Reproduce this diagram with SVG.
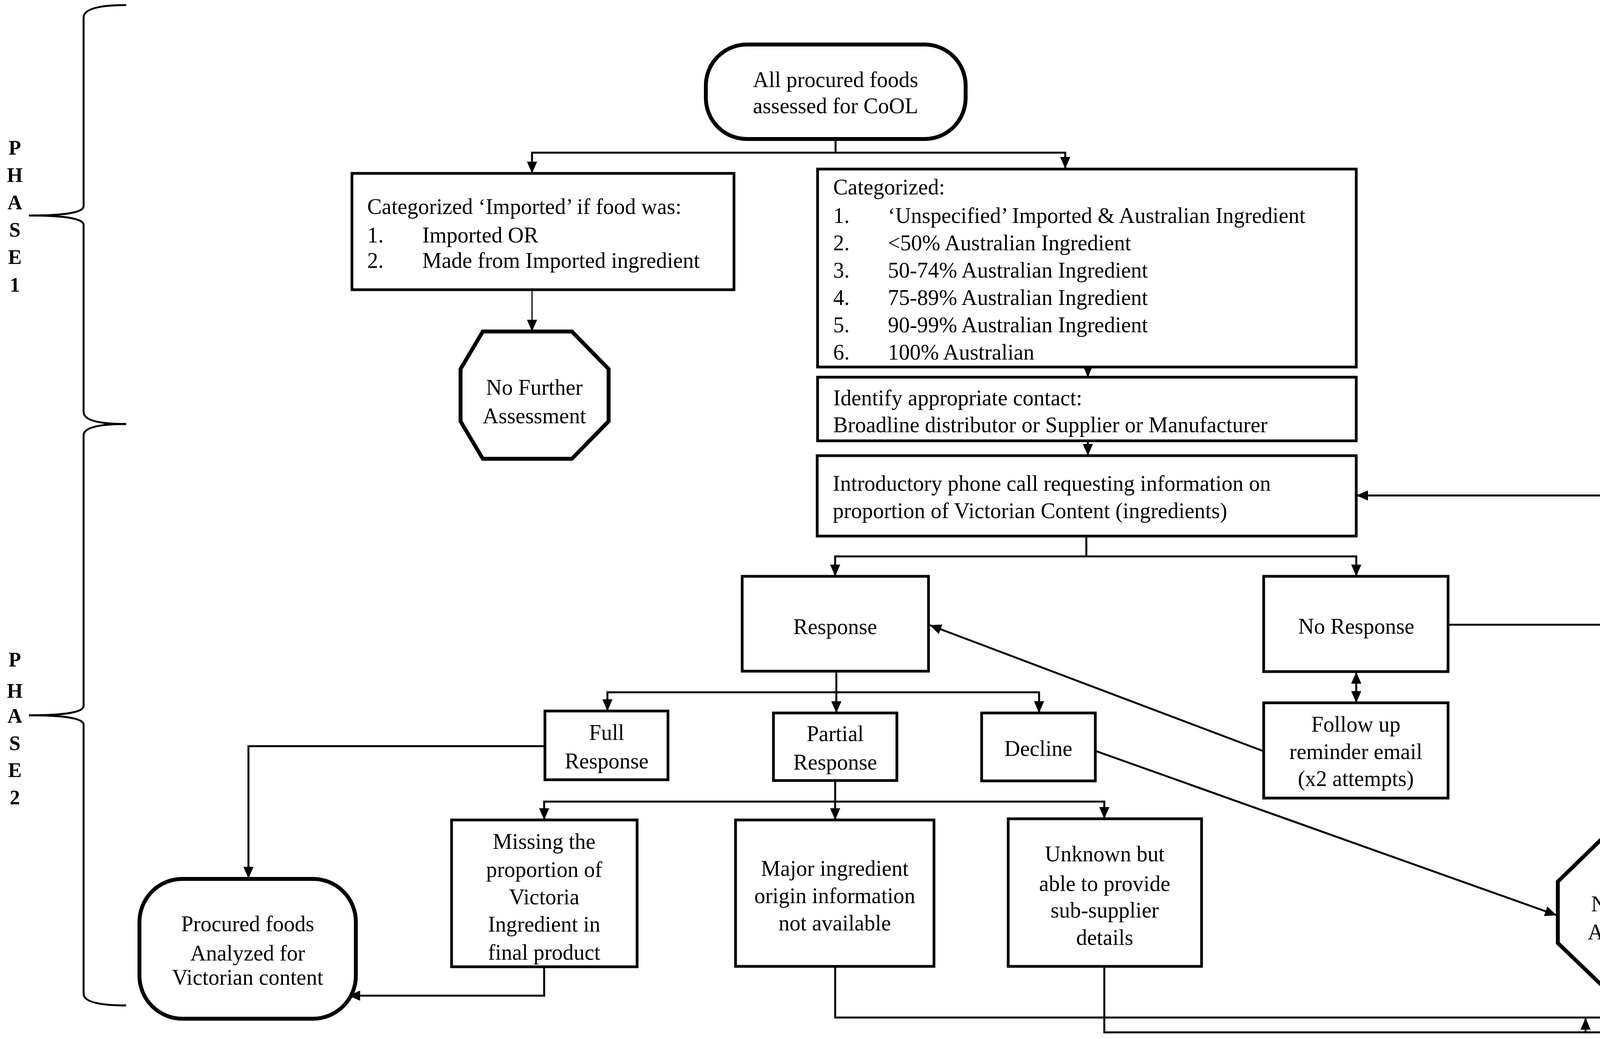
<svg xmlns="http://www.w3.org/2000/svg" width="4550" height="2661" viewBox="0 0 4550 2661">
<style>
.t{font-family:"Liberation Serif","Times New Roman",serif;font-size:56px;fill:#000}
.c{text-anchor:middle}
.ph{font-family:"Liberation Serif","Times New Roman",serif;font-size:52px;font-weight:bold;text-anchor:middle;fill:#000}
.box{fill:#fff;stroke:#000;stroke-width:7}
.thick{fill:#fff;stroke:#000;stroke-width:10}
.ln{fill:none;stroke:#000;stroke-width:5}
.arr{marker-end:url(#ah)}
.brace{fill:none;stroke:#000;stroke-width:5}
</style>
<defs>
<marker id="ah" viewBox="0 0 10 10" refX="10" refY="5" markerWidth="30" markerHeight="26" markerUnits="userSpaceOnUse" orient="auto-start-reverse" preserveAspectRatio="none"><path d="M0,0 L10,5 L0,10 z" fill="#000"/></marker>
</defs>
<rect width="4550" height="2661" fill="#fff"/>

<g id="phases">
<path class="brace" d="M323,13 Q214,13 214,45 L214,528 Q214,552 74,552 Q214,552 214,576 L214,1055 Q214,1086 323,1086"/>
<path class="brace" d="M323,1086 Q214,1086 214,1115 L214,1808 Q214,1832 74,1832 Q214,1832 214,1856 L214,2545 Q214,2575 323,2575"/>
<text class="ph" x="38" y="396">P</text>
<text class="ph" x="38" y="466">H</text>
<text class="ph" x="38" y="536">A</text>
<text class="ph" x="38" y="606">S</text>
<text class="ph" x="38" y="676">E</text>
<text class="ph" x="38" y="747">1</text>
<text class="ph" x="38" y="1707">P</text>
<text class="ph" x="38" y="1787">H</text>
<text class="ph" x="38" y="1851">A</text>
<text class="ph" x="38" y="1921">S</text>
<text class="ph" x="38" y="1990">E</text>
<text class="ph" x="38" y="2060">2</text>
</g>

<g id="connectors">
<path class="ln" d="M2139,356 V391"/>
<path class="ln arr" d="M2139,391 H1362 V444"/>
<path class="ln arr" d="M2139,391 H2727 V432"/>
<path class="ln arr" style="stroke-width:3" d="M1362,742 V849"/>
<path class="ln arr" d="M2785,940 V966"/>
<path class="ln arr" d="M2785,1129 V1167"/>
<path class="ln" d="M2781,1373 V1425"/>
<path class="ln arr" d="M2781,1425 H2138 V1476"/>
<path class="ln arr" d="M2781,1425 H3472 V1476"/>
<path class="ln" d="M2141,1719 V1773"/>
<path class="ln arr" d="M2141,1773 H1555 V1821"/>
<path class="ln arr" d="M2141,1773 V1826"/>
<path class="ln arr" d="M2141,1773 H2660 V1826"/>
<path class="ln arr" d="M1395,1911 H636 V2250"/>
<path class="ln" d="M2138,1999 V2053"/>
<path class="ln arr" d="M2138,2053 H1393 V2100"/>
<path class="ln arr" d="M2138,2053 V2100"/>
<path class="ln arr" d="M2138,2053 H2827 V2097"/>
<path class="ln arr" d="M1393,2476 V2550 H892"/>
<path class="ln arr" d="M2138,2475 V2606 H4199 V2520"/>
<path class="ln arr" d="M2827,2475 V2644 H4533 V1269 H3472"/>
<path class="ln arr" d="M4059,2644 V2607"/>
<path class="ln arr" d="M3707,1600 H4199 V2150"/>
<path class="ln arr" style="marker-start:url(#ah)" d="M3472,1721 V1800"/>
<path class="ln arr" d="M3235,1924 L2380,1601"/>
<path class="ln arr" d="M2804,1923 L3985,2344"/>
</g>

<g id="n_start">
<rect class="thick" x="1807" y="114" width="665" height="242" rx="105" ry="105"/>
<text class="t c" x="2139" y="223">All procured foods</text>
<text class="t c" x="2139" y="290">assessed for CoOL</text>
</g>

<g id="n_imported">
<rect class="box" x="901" y="444" width="978" height="298"/>
<text class="t" x="940" y="548">Categorized ‘Imported’ if food was:</text>
<text class="t" x="940" y="621">1.</text>
<text class="t" x="1081" y="621">Imported OR</text>
<text class="t" x="940" y="686">2.</text>
<text class="t" x="1081" y="686">Made from Imported ingredient</text>
</g>

<g id="n_stop1">
<polygon class="thick" points="1236,849 1464,849 1558,945 1558,1079 1464,1175 1236,1175 1179,1079 1179,945"/>
<text class="t c" x="1368" y="1011">No Further</text>
<text class="t c" x="1368" y="1084">Assessment</text>
</g>

<g id="n_categorized">
<rect class="box" x="2093" y="433" width="1379" height="507"/>
<text class="t" x="2133" y="498">Categorized:</text>
<text class="t" x="2133" y="571">1.</text>
<text class="t" x="2273" y="571">‘Unspecified’ Imported &amp; Australian Ingredient</text>
<text class="t" x="2133" y="641">2.</text>
<text class="t" x="2273" y="641">&lt;50% Australian Ingredient</text>
<text class="t" x="2133" y="711">3.</text>
<text class="t" x="2273" y="711">50-74% Australian Ingredient</text>
<text class="t" x="2133" y="781">4.</text>
<text class="t" x="2273" y="781">75-89% Australian Ingredient</text>
<text class="t" x="2133" y="851">5.</text>
<text class="t" x="2273" y="851">90-99% Australian Ingredient</text>
<text class="t" x="2133" y="921">6.</text>
<text class="t" x="2273" y="921">100% Australian</text>
</g>

<g id="n_identify">
<rect class="box" x="2093" y="966" width="1379" height="163"/>
<text class="t" x="2133" y="1038">Identify appropriate contact:</text>
<text class="t" x="2133" y="1107">Broadline distributor or Supplier or Manufacturer</text>
</g>

<g id="n_intro">
<rect class="box" x="2092" y="1167" width="1380" height="206"/>
<text class="t" x="2132" y="1257">Introductory phone call requesting information on</text>
<text class="t" x="2132" y="1327">proportion of Victorian Content (ingredients)</text>
</g>

<g id="n_response">
<rect class="box" x="1900" y="1476" width="477" height="243"/>
<text class="t c" x="2138" y="1624">Response</text>
</g>

<g id="n_noresponse">
<rect class="box" x="3235" y="1476" width="472" height="244"/>
<text class="t c" x="3472" y="1623">No Response</text>
</g>

<g id="n_followup">
<rect class="box" x="3235" y="1800" width="472" height="244"/>
<text class="t c" x="3471" y="1874">Follow up</text>
<text class="t c" x="3471" y="1944">reminder email</text>
<text class="t c" x="3471" y="2013">(x2 attempts)</text>
</g>

<g id="n_full">
<rect class="box" x="1395" y="1821" width="315" height="176"/>
<text class="t c" x="1553" y="1895">Full</text>
<text class="t c" x="1553" y="1968">Response</text>
</g>

<g id="n_partial">
<rect class="box" x="1980" y="1826" width="316" height="173"/>
<text class="t c" x="2138" y="1898">Partial</text>
<text class="t c" x="2138" y="1971">Response</text>
</g>

<g id="n_decline">
<rect class="box" x="2513" y="1826" width="291" height="174"/>
<text class="t c" x="2658" y="1936">Decline</text>
</g>

<g id="n_missing">
<rect class="box" x="1156" y="2100" width="475" height="376"/>
<text class="t c" x="1393" y="2174">Missing the</text>
<text class="t c" x="1393" y="2246">proportion of</text>
<text class="t c" x="1393" y="2316">Victoria</text>
<text class="t c" x="1393" y="2386">Ingredient in</text>
<text class="t c" x="1393" y="2458">final product</text>
</g>

<g id="n_major">
<rect class="box" x="1883" y="2100" width="508" height="375"/>
<text class="t c" x="2137" y="2243">Major ingredient</text>
<text class="t c" x="2137" y="2313">origin information</text>
<text class="t c" x="2137" y="2383">not available</text>
</g>

<g id="n_unknown">
<rect class="box" x="2581" y="2097" width="495" height="378"/>
<text class="t c" x="2828" y="2206">Unknown but</text>
<text class="t c" x="2828" y="2282">able to provide</text>
<text class="t c" x="2828" y="2350">sub-supplier</text>
<text class="t c" x="2828" y="2420">details</text>
</g>

<g id="n_stop2">
<polygon class="thick" points="4097,2152 4305,2152 4412,2258 4412,2415 4305,2520 4097,2520 3988,2415 3988,2258"/>
<text class="t c" x="4197" y="2334">No Further</text>
<text class="t c" x="4197" y="2406">Assessment</text>
</g>

<g id="n_procured">
<rect class="thick" x="357" y="2251" width="554" height="358" rx="110" ry="110"/>
<text class="t c" x="634" y="2385">Procured foods</text>
<text class="t c" x="634" y="2460">Analyzed for</text>
<text class="t c" x="634" y="2522">Victorian content</text>
</g>
</svg>
